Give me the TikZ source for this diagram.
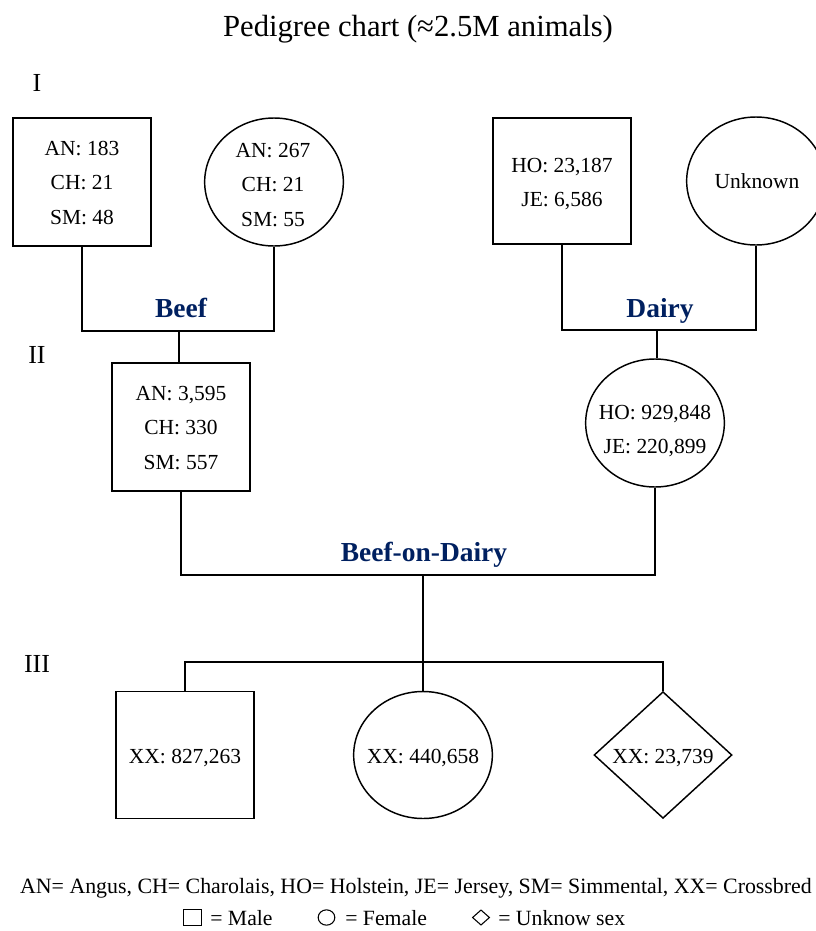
\documentclass[tikz,border=0pt]{standalone}
\usepackage{fontspec}
\setmainfont{Liberation Serif}
\usetikzlibrary{shapes.geometric}
\definecolor{navy}{RGB}{0,32,96}
\tikzset{
  shp/.style={draw, line width=1.1pt, inner sep=0pt},
  male/.style={shp, rectangle, minimum width=103.5pt, minimum height=96pt},
  fem/.style={shp, ellipse, minimum width=104pt, minimum height=96pt},
  unk/.style={shp, diamond, minimum width=103.5pt, minimum height=95pt},
  txt/.style={align=center, inner sep=0pt, font=\fontsize{16.1}{25.9}\selectfont},
  grp/.style={anchor=base, inner sep=0pt, font=\fontsize{20.6}{24}\selectfont\bfseries, text=navy},
  gen/.style={anchor=base, inner sep=0pt, font=\fontsize{19.5}{24}\selectfont},
  conn/.style={line width=1.3pt},
  leg/.style={anchor=base west, inner sep=0pt, font=\fontsize{16.3}{20}\selectfont},
  legsym/.style={draw, line width=0.8pt, inner sep=0pt},
}
\begin{document}
\begin{tikzpicture}[x=0.75pt, y=-0.75pt]
\useasboundingbox (0,0) rectangle (816,931);
% title
\node[anchor=base, inner sep=0pt, font=\fontsize{23}{28}\selectfont] (title) at (418,36.5) {Pedigree chart (≈2.5M animals)};
% generation labels
\node[gen] (g1) at (37,92) {I};
\node[gen] (g2) at (37,363) {II};
\node[gen] (g3) at (37,672) {III};
% generation I
\node[male] (b1) at (82,182) {};
\node[txt] (b1t) at (82,183) {AN: 183\\CH: 21\\SM: 48};
\node[fem] (b2) at (274,182) {};
\node[txt] (b2t) at (273,185) {AN: 267\\CH: 21\\SM: 55};
\node[male, minimum height=94.5pt] (d1) at (562,181) {};
\node[txt] (d1t) at (562,184) {HO: 23,187\\JE: 6,586};
\node[fem] (d2) at (756,181) {};
\node[txt] (d2t) at (757,181) {Unknown};
% generation II
\node[male] (b3) at (181,427) {};
\node[txt] (b3t) at (181,428) {AN: 3,595\\CH: 330\\SM: 557};
\node[fem] (d3) at (655,423) {};
\node[txt] (d3t) at (655,431) {HO: 929,848\\JE: 220,899};
% generation III
\node[male, minimum height=95.25pt] (c1) at (185,755) {};
\node[txt] (c1t) at (185,758) {XX: 827,263};
\node[fem, minimum height=95.25pt] (c2) at (423,755) {};
\node[txt] (c2t) at (423,758) {XX: 440,658};
\node[unk] (c3) at (663,755) {};
\node[txt] (c3t) at (663,758) {XX: 23,739};
% joints
\coordinate (bmid) at (179,331);
\coordinate (dmid) at (657,330);
\coordinate (bdmid) at (423,575);
\coordinate (cbar) at (423,662);
% connectors
\draw[conn] (b1.south) |- (bmid) -| (b2.south);
\draw[conn] (bmid) -- (bmid |- b3.north);
\draw[conn] (d1.south) |- (dmid) -| (d2.south);
\draw[conn] (dmid) -- (dmid |- d3.north);
\draw[conn] (b3.south) |- (bdmid) -| (d3.south);
\draw[conn] (bdmid) -- (c2.north);
\draw[conn] (c1.north) |- (cbar) -| (c3.north);
% group labels
\node[grp] (lb) at (181,317) {Beef};
\node[grp] (ld) at (660,317) {Dairy};
\node[grp] (lbd) at (424,561) {Beef-on-Dairy};
% legend
\node[anchor=base, inner sep=0pt, font=\fontsize{16.4}{20}\selectfont] (leg1) at (416,893) {AN= Angus, CH= Charolais, HO= Holstein, JE= Jersey, SM= Simmental, XX= Crossbred};
\node[legsym, rectangle, minimum width=14pt, minimum height=11.5pt] (sm) at (192.5,917.5) {};
\node[leg] (lm) at (210,925) {= Male};
\node[legsym, ellipse, minimum width=12.5pt, minimum height=11.5pt] (sf) at (326.5,917.5) {};
\node[leg] (lf) at (345,925) {= Female};
\node[legsym, diamond, minimum width=13pt, minimum height=11.5pt] (su) at (481,917.5) {};
\node[leg] (lu) at (498,925) {= Unknow sex};
\end{tikzpicture}
\end{document}
